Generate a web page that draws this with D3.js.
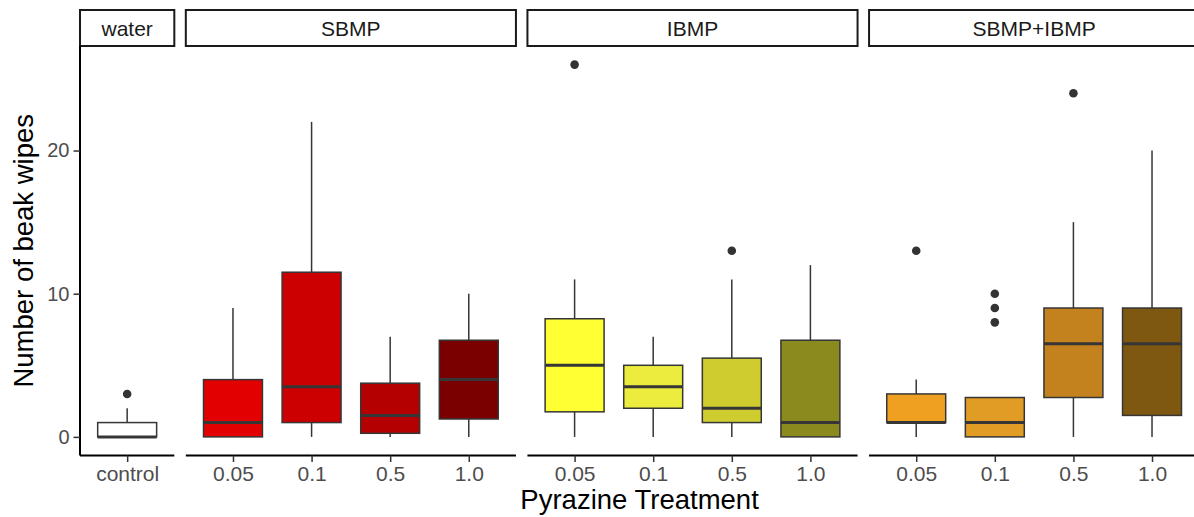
<!DOCTYPE html>
<html>
<head>
<meta charset="utf-8">
<script src="https://cdn.jsdelivr.net/npm/d3@7"></script>
<style>
  html, body { margin: 0; padding: 0; background: #fff; }
  svg { display: block; font-family: "Liberation Sans", Arial, sans-serif; }
</style>
</head>
<body>
<svg id="chart" width="1194" height="517"></svg>
<script>
// Facet groups and the treatment levels inside each one
const groups = ["water", "SBMP", "IBMP", "SBMP+IBMP"];
const levels = [
  ["control"],
  ["0.05", "0.1", "0.5", "1.0"],
  ["0.05", "0.1", "0.5", "1.0"],
  ["0.05", "0.1", "0.5", "1.0"]
];

// Box statistics per group, one entry per level (beak wipes)
const whiskerLow = [[0], [0, 0, 0, 0], [0, 0, 0, 0], [0, 0, 0, 0]];
const q1 = [[0], [0, 1, 0.25, 1.25], [1.75, 2, 1, 0], [1, 0, 2.75, 1.5]];
const median = [[0], [1, 3.5, 1.5, 4], [5, 3.5, 2, 1], [1, 1, 6.5, 6.5]];
const q3 = [[1], [4, 11.5, 3.75, 6.75], [8.25, 5, 5.5, 6.75], [3, 2.75, 9, 9]];
const whiskerHigh = [[2], [9, 22, 7, 10], [11, 7, 11, 12], [4, 2.75, 15, 20]];
const outliers = [[[3]], [[], [], [], []], [[26], [], [13], []], [[13], [8, 9, 10], [24], []]];

// Fill colour of every box
const fills = [
  ["#ffffff"],
  ["#e30000", "#cc0000", "#b40000", "#7a0000"],
  ["#ffff33", "#ecec3e", "#cfcc30", "#8a8a1f"],
  ["#f0a020", "#e09c24", "#c4821e", "#7e5710"]
];

const yTicks = [0, 10, 20];
const yDomain = [-1.3, 27.3];

const svg = d3.select("#chart");

// Layout
const left = 80, gap = 11.5, unit = 78.6, pad = 0.6;
const panelTop = 46, panelBottom = 455.5;
const stripTop = 10;

const y = d3.scaleLinear().domain(yDomain).range([panelBottom, panelTop]);

let xCursor = left;
const panels = groups.map((g, i) => {
  const n = levels[i].length;
  const w = (n - 1 + 2 * pad) * unit;
  const x0 = xCursor;
  xCursor += w + gap;
  const x = d3.scalePoint().domain(levels[i]).range([x0, x0 + w]).padding(pad);
  return { name: g, i, x0, w, x };
});

const boxW = 0.75 * unit;
const lineCol = "#363636";

panels.forEach(p => {
  const gp = svg.append("g");

  // strip
  gp.append("rect")
    .attr("x", p.x0).attr("y", stripTop)
    .attr("width", p.w).attr("height", panelTop - stripTop)
    .attr("fill", "#fff").attr("stroke", "#1a1a1a").attr("stroke-width", 2);
  gp.append("text")
    .attr("x", p.x0 + p.w / 2).attr("y", (stripTop + panelTop) / 2 + 7.5)
    .attr("text-anchor", "middle")
    .attr("font-size", 21).attr("fill", "#1a1a1a")
    .text(p.name);

  // boxes
  levels[p.i].forEach((lv, j) => {
    const cx = p.x(lv);
    const b = gp.append("g");
    b.append("line")
      .attr("x1", cx).attr("x2", cx)
      .attr("y1", y(q3[p.i][j])).attr("y2", y(whiskerHigh[p.i][j]))
      .attr("stroke", lineCol).attr("stroke-width", 1.5);
    b.append("line")
      .attr("x1", cx).attr("x2", cx)
      .attr("y1", y(q1[p.i][j])).attr("y2", y(whiskerLow[p.i][j]))
      .attr("stroke", lineCol).attr("stroke-width", 1.5);
    b.append("rect")
      .attr("x", cx - boxW / 2).attr("width", boxW)
      .attr("y", y(q3[p.i][j])).attr("height", y(q1[p.i][j]) - y(q3[p.i][j]))
      .attr("fill", fills[p.i][j]).attr("stroke", lineCol).attr("stroke-width", 1.5);
    b.append("line")
      .attr("x1", cx - boxW / 2).attr("x2", cx + boxW / 2)
      .attr("y1", y(median[p.i][j])).attr("y2", y(median[p.i][j]))
      .attr("stroke", lineCol).attr("stroke-width", 3);
    b.selectAll("circle").data(outliers[p.i][j]).join("circle")
      .attr("cx", cx).attr("cy", d => y(d)).attr("r", 4.3)
      .attr("fill", "#333");
  });

  // x axis
  const ax = gp.append("g")
    .attr("transform", `translate(0,${panelBottom})`)
    .call(d3.axisBottom(p.x).tickSizeOuter(0).tickSize(6.5).tickPadding(4));
  ax.select(".domain").attr("stroke", "#000").attr("stroke-width", 2)
    .attr("d", `M${p.x0},0H${p.x0 + p.w}`);
  ax.selectAll(".tick line").attr("stroke", "#333").attr("stroke-width", 1.5);
  ax.selectAll(".tick text").attr("font-size", 21).attr("fill", "#4d4d4d")
    .attr("font-family", "Liberation Sans, Arial, sans-serif");
});

// y axis on the first panel
const ay = svg.append("g")
  .attr("transform", `translate(${left},0)`)
  .call(d3.axisLeft(y).tickValues(yTicks).tickSizeOuter(0).tickSize(6.5).tickPadding(4));
ay.select(".domain").attr("stroke", "#000").attr("stroke-width", 2)
  .attr("d", `M0,${panelTop}V${panelBottom}`);
ay.selectAll(".tick line").attr("stroke", "#333").attr("stroke-width", 1.5);
ay.selectAll(".tick text").attr("font-size", 20).attr("fill", "#4d4d4d")
  .attr("font-family", "Liberation Sans, Arial, sans-serif");

// axis titles
const plotRight = panels[panels.length - 1].x0 + panels[panels.length - 1].w;
svg.append("text")
  .attr("x", (left + plotRight) / 2).attr("y", 509)
  .attr("text-anchor", "middle").attr("font-size", 27.5).attr("fill", "#000")
  .text("Pyrazine Treatment");
svg.append("text")
  .attr("transform", `translate(33,${(panelTop + panelBottom) / 2}) rotate(-90)`)
  .attr("text-anchor", "middle").attr("font-size", 27.5).attr("fill", "#000")
  .text("Number of beak wipes");
</script>
</body>
</html>
